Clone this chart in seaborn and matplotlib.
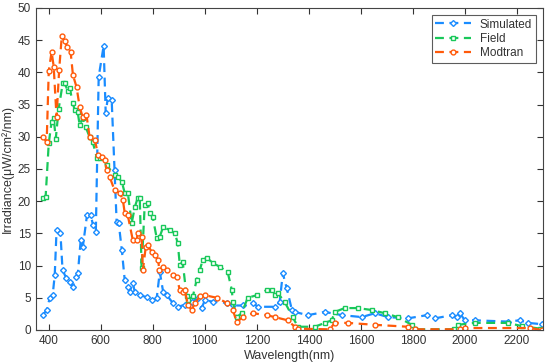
import numpy as np
import pandas as pd
import matplotlib
matplotlib.use("Agg")
import matplotlib.pyplot as plt
import seaborn as sns

sim_x = [377, 392, 404, 415, 423, 430, 445, 453, 468, 480, 493, 504, 512, 523, 531, 547, 562, 570, 581,
         592, 611, 619, 627, 642, 653, 661, 669, 681, 692, 704, 711, 723, 731, 750, 777, 796, 815, 827,
         840, 854, 877, 896, 923, 950, 973, 988, 1000, 1031, 1085, 1108, 1146, 1185, 1204, 1269, 1288,
         1300, 1315, 1335, 1346, 1396, 1462, 1527, 1604, 1654, 1704, 1781, 1854, 1885, 1950, 1970, 1981,
         2000, 2038, 2165, 2212, 2242, 2296]
sim_y = [2.3, 3.1, 5.0, 5.4, 8.5, 15.5, 15.0, 9.3, 8.0, 7.4, 6.7, 8.2, 8.8, 14.0, 12.9, 17.8, 17.8, 16.3, 15.2,
         39.3, 44.1, 33.7, 36.0, 35.7, 24.8, 16.8, 16.6, 12.4, 7.8, 6.7, 5.9, 7.3, 5.9, 5.4, 5.1, 4.6, 4.9, 9.0,
         5.9, 5.4, 4.2, 3.6, 3.9, 4.4, 4.9, 3.4, 4.6, 4.4, 4.2, 3.8, 3.8, 4.2, 3.6, 3.6, 4.3,
         8.8, 6.5, 3.1, 2.8, 2.3, 2.8, 2.3, 2.0, 2.6, 2.0, 1.8, 2.3, 1.8, 2.3, 2.0, 2.6,
         1.5, 1.5, 1.3, 1.5, 1.1, 0.9]

field_x = [377, 388, 400, 411, 419, 427, 438, 454, 461, 473, 481, 492, 500, 511, 519, 530, 542, 557, 569,
           585, 596, 623, 653, 665, 681, 692, 704, 719, 731, 742, 750, 757, 769, 781, 788, 800, 815, 827,
           840, 865, 885, 896, 904, 915, 930, 935, 954, 969, 981, 992, 1008, 1031, 1058, 1088, 1104, 1108,
           1123, 1142, 1165, 1200, 1238, 1258, 1269, 1281, 1308, 1338, 1358, 1423, 1462, 1488, 1500, 1538,
           1588, 1642, 1692, 1742, 1796, 1810, 1960, 1973, 2038, 2165, 2219, 2290]
field_y = [20.5, 20.7, 29.0, 32.3, 32.9, 29.7, 34.3, 38.4, 38.4, 37.1, 37.6, 35.2, 34.2, 33.9, 31.8, 32.9, 31.5, 30.0, 29.2,
           26.7, 26.7, 25.6, 24.0, 23.8, 23.0, 21.3, 21.3, 16.6, 19.1, 20.5, 20.5, 9.6, 19.4, 19.7, 18.2, 17.5, 14.3, 14.5,
           16.0, 15.5, 15.0, 13.5, 10.1, 10.6, 5.2, 4.7, 5.2, 7.8, 9.3, 10.9, 11.2, 10.4, 9.8, 9.0, 6.2, 4.3,
           2.0, 2.6, 5.0, 5.4, 6.2, 6.2, 5.4, 5.7, 4.3, 2.0, 0.5, 0.5, 1.1, 1.5, 2.8, 3.4,
           3.4, 3.1, 2.6, 2.0, 0.8, 0.1, 0.1, 0.8, 1.1, 1.1, 0.6, 0.2]

mod_x = [377, 392, 400, 411, 419, 430, 440, 450, 461, 472, 484, 493, 507, 519, 531, 545, 557, 577, 590,
         603, 615, 623, 634, 653, 673, 685, 692, 704, 723, 738, 742, 757, 762, 773, 781, 796, 808, 821, 825,
         840, 854, 877, 892, 904, 915, 923, 935, 950, 962, 981, 1000, 1046, 1085, 1108, 1123, 1146, 1185,
         1238, 1269, 1319, 1346, 1358, 1480, 1500, 1550, 1654, 1781, 1808, 1980, 2000, 2250, 2296]
mod_y = [30.0, 29.2, 40.2, 43.2, 40.9, 33.0, 40.4, 45.6, 44.8, 44.0, 43.2, 39.6, 37.7, 34.6, 33.0, 33.4, 30.0, 29.5, 27.2,
         26.9, 26.4, 24.8, 23.8, 21.7, 21.3, 20.2, 18.2, 17.8, 14.0, 14.0, 15.0, 14.5, 9.3, 12.9, 13.2, 12.1, 11.6, 10.8, 9.3,
         9.8, 9.3, 8.5, 8.2, 6.2, 5.9, 6.2, 3.9, 3.1, 4.2, 5.2, 5.4, 5.0, 4.2, 3.1, 1.2, 2.0, 2.6,
         2.3, 2.0, 1.5, 0.5, 0.2, 0.1, 1.1, 1.1, 0.8, 0.5, 0.1, 0.1, 0.3, 0.3, 0.0]

x_ticks = list(range(400, 2201, 200))
y_ticks = list(range(0, 51, 5))

sns.set_style("white")
plt.rcParams['font.family'] = ['Liberation Sans', 'DejaVu Sans']

fig = plt.figure(figsize=(5.5, 3.63), dpi=100)
ax = fig.add_axes([0.065, 0.091, 0.922, 0.887])

series = [
    ("Simulated", sim_x, sim_y, "#1a8cff", "D", 3.0),
    ("Field", field_x, field_y, "#19c85a", "s", 3.2),
    ("Modtran", mod_x, mod_y, "#ff5a0a", "o", 3.5),
]
for name, xs, ys, col, mk, ms in series:
    df = pd.DataFrame({"Wavelength": xs, "Irradiance": ys})
    sns.lineplot(data=df, x="Wavelength", y="Irradiance", ax=ax, color=col, marker=mk,
                 markersize=ms, markerfacecolor="white", markeredgecolor=col, markeredgewidth=1.0,
                 linestyle=(0, (4, 2.5)), linewidth=1.6, label=name, sort=False)

ax.set_xlim(350, 2300)
ax.set_ylim(0, 50)
ax.set_xticks(x_ticks)
ax.set_yticks(y_ticks)
ax.tick_params(direction="in", length=4, width=0.8, labelsize=8.5, colors="#333333",
               top=True, right=True, bottom=True, left=True)
for s in ax.spines.values():
    s.set_color("#444444")
    s.set_linewidth(0.8)
ax.set_xlabel("Wavelength(nm)", fontsize=9, color="#333333", labelpad=2)
ax.set_ylabel("Irradiance(μW/cm²/nm)", fontsize=9, color="#333333", labelpad=3)

leg = ax.legend(loc="upper right", fontsize=8.5, frameon=True, fancybox=False,
                borderpad=0.3, handlelength=3.0, labelspacing=0.2, borderaxespad=0.6)
leg.get_frame().set_edgecolor("#333333")
leg.get_frame().set_linewidth(0.8)
for t in leg.get_texts():
    t.set_color("#333333")

fig.savefig("out.png", dpi=100)
